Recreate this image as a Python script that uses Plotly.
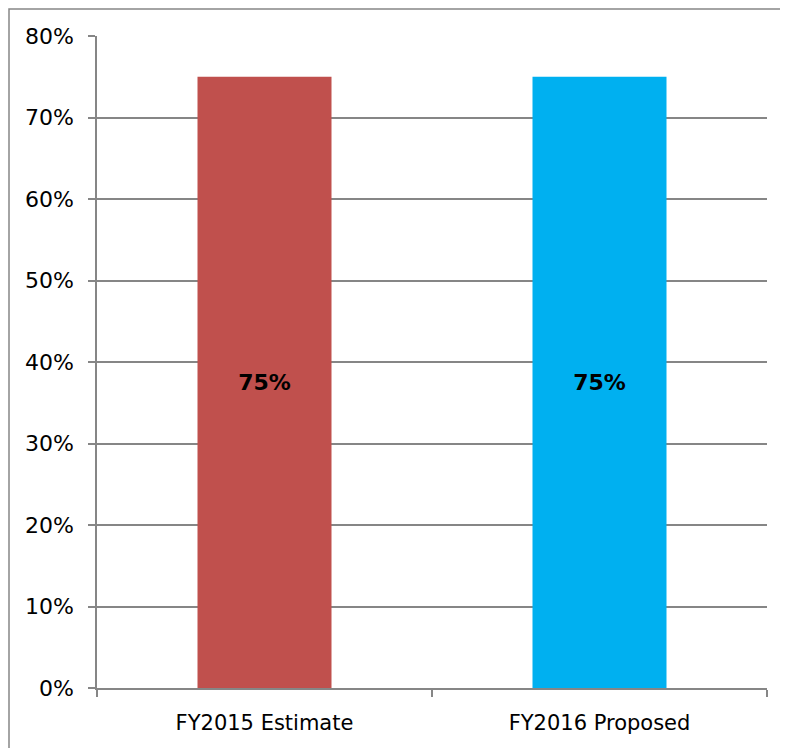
import plotly.graph_objects as go

categories = ["FY2015 Estimate", "FY2016 Proposed"]
values = [0.75, 0.75]
bar_colors = ["#C0504D", "#00B0F0"]
labels = ["75%", "75%"]
y_ticks = [0, 0.1, 0.2, 0.3, 0.4, 0.5, 0.6, 0.7, 0.8]
y_tick_labels = ["0%", "10%", "20%", "30%", "40%", "50%", "60%", "70%", "80%"]

# page body has an 8px margin, so the figure starts at (8, 8)
W, H = 780, 740
L, R, T, B = 89, 21, 28, 60
pw, ph = W - L - R, H - T - B

fig = go.Figure(go.Bar(
    x=categories, y=values, marker=dict(color=bar_colors, line=dict(width=0)),
    text=labels, textposition="inside", insidetextanchor="middle",
    textfont=dict(family="DejaVu Sans", size=22, color="#000000", weight="bold"),
    textangle=0, hoverinfo="skip",
))

grid = "#868686"
fig.update_layout(
    width=W, height=H, margin=dict(l=L, r=R, t=T, b=B),
    paper_bgcolor="white", plot_bgcolor="white", bargap=0.6, showlegend=False,
    font=dict(family="DejaVu Sans", size=21, color="#000000"),
)
fig.update_yaxes(
    range=[0, 0.8], tickvals=y_ticks, ticktext=y_tick_labels,
    showgrid=True, gridcolor=grid, gridwidth=1.5,
    showline=True, linecolor=grid, linewidth=1.5,
    ticks="outside", ticklen=7, tickcolor=grid, tickwidth=1.5,
    ticklabelstandoff=10, zeroline=False, tickfont=dict(size=22),
)
fig.update_xaxes(
    showline=True, linecolor=grid, linewidth=1.5,
    ticks="outside", ticklen=7, tickcolor=grid, tickwidth=1.5,
    tickson="boundaries", ticklabelstandoff=15, showgrid=False,
)
# outer chart border (right and bottom edges fall outside the view)
fig.add_shape(
    type="rect", xref="paper", yref="paper", layer="above",
    x0=(1 - L) / pw, x1=(W + 20 - L) / pw,
    y0=(H - B - (H + 20)) / ph, y1=(H - B - 1) / ph,
    line=dict(color=grid, width=1.5), fillcolor="rgba(0,0,0,0)",
)

fig.write_html("out.html")
